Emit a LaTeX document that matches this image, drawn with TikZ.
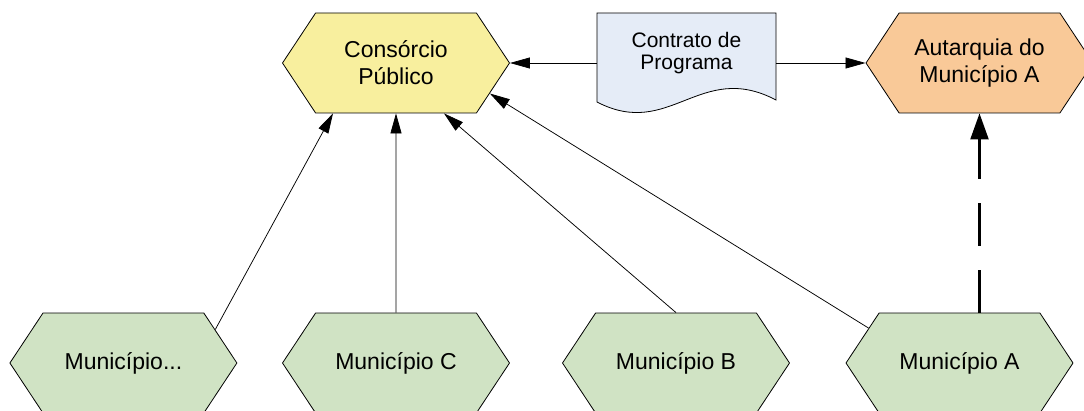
\documentclass[tikz,border=0pt]{standalone}
\usepackage{fontspec}
\setmainfont{Liberation Sans}
\usepackage{tikz}
\usetikzlibrary{shapes.symbols,arrows.meta}

\definecolor{consyellow}{HTML}{F8EF9E}
\definecolor{autorange}{HTML}{F9C998}
\definecolor{mungreen}{HTML}{D0E3C4}
\definecolor{docblue}{HTML}{E5ECF7}

\begin{document}
\begin{tikzpicture}[x=1pt, y=1pt,
  hexa/.style = {draw, signal, signal to=west and east, signal pointer angle=113,
    minimum width=227pt, minimum height=100pt, inner sep=0pt, line width=0.8pt,
    align=center, font=\fontsize{23}{27}\selectfont},
  link/.style = {-{Triangle[length=20pt, width=11pt]}, line width=0.75pt},
  duty/.style = {-{Triangle[length=26pt, width=18pt]}, line width=2.2pt, dash pattern=on 43pt off 24pt}]
  \useasboundingbox (0,0) rectangle (1084,410);

  \node[hexa, fill=consyellow] (cons) at (396,347) {Consórcio\\Público};
  \node[hexa, fill=autorange] (auta) at (979.5,347) {Autarquia do\\Município A};

  \draw[fill=docblue, line width=0.8pt] (597,397) -- (776,397) -- (776,310) .. controls (700,350) and (670,270) .. (597,308) -- cycle;
  \node[minimum width=179pt, minimum height=74pt, inner sep=0pt, align=center, font=\fontsize{21}{22}\selectfont] (doc) at (686.5,357) {Contrato de\\Programa};

  \node[hexa, fill=mungreen] (munD) at (123.4,47) {Município...};
  \node[hexa, fill=mungreen] (munC) at (396,47) {Município C};
  \node[hexa, fill=mungreen] (munB) at (676,47) {Município B};
  \node[hexa, fill=mungreen] (munA) at (959.5,47) {Município A};

  \draw[link] (doc.west |- cons.east) -- (cons.east);
  \draw[link] (doc.east |- auta.west) -- (auta.west);

  \draw[link] (munD.20) -- ([xshift=-63pt]cons.south);
  \draw[link] (munC) -- (cons);
  \draw[link] (munB.north) -- ([xshift=48pt]cons.south);
  \draw[link] (munA.159) -- (cons.342);

  \draw[duty] (auta.south |- munA.north) -- (auta.south);

\end{tikzpicture}
\end{document}
